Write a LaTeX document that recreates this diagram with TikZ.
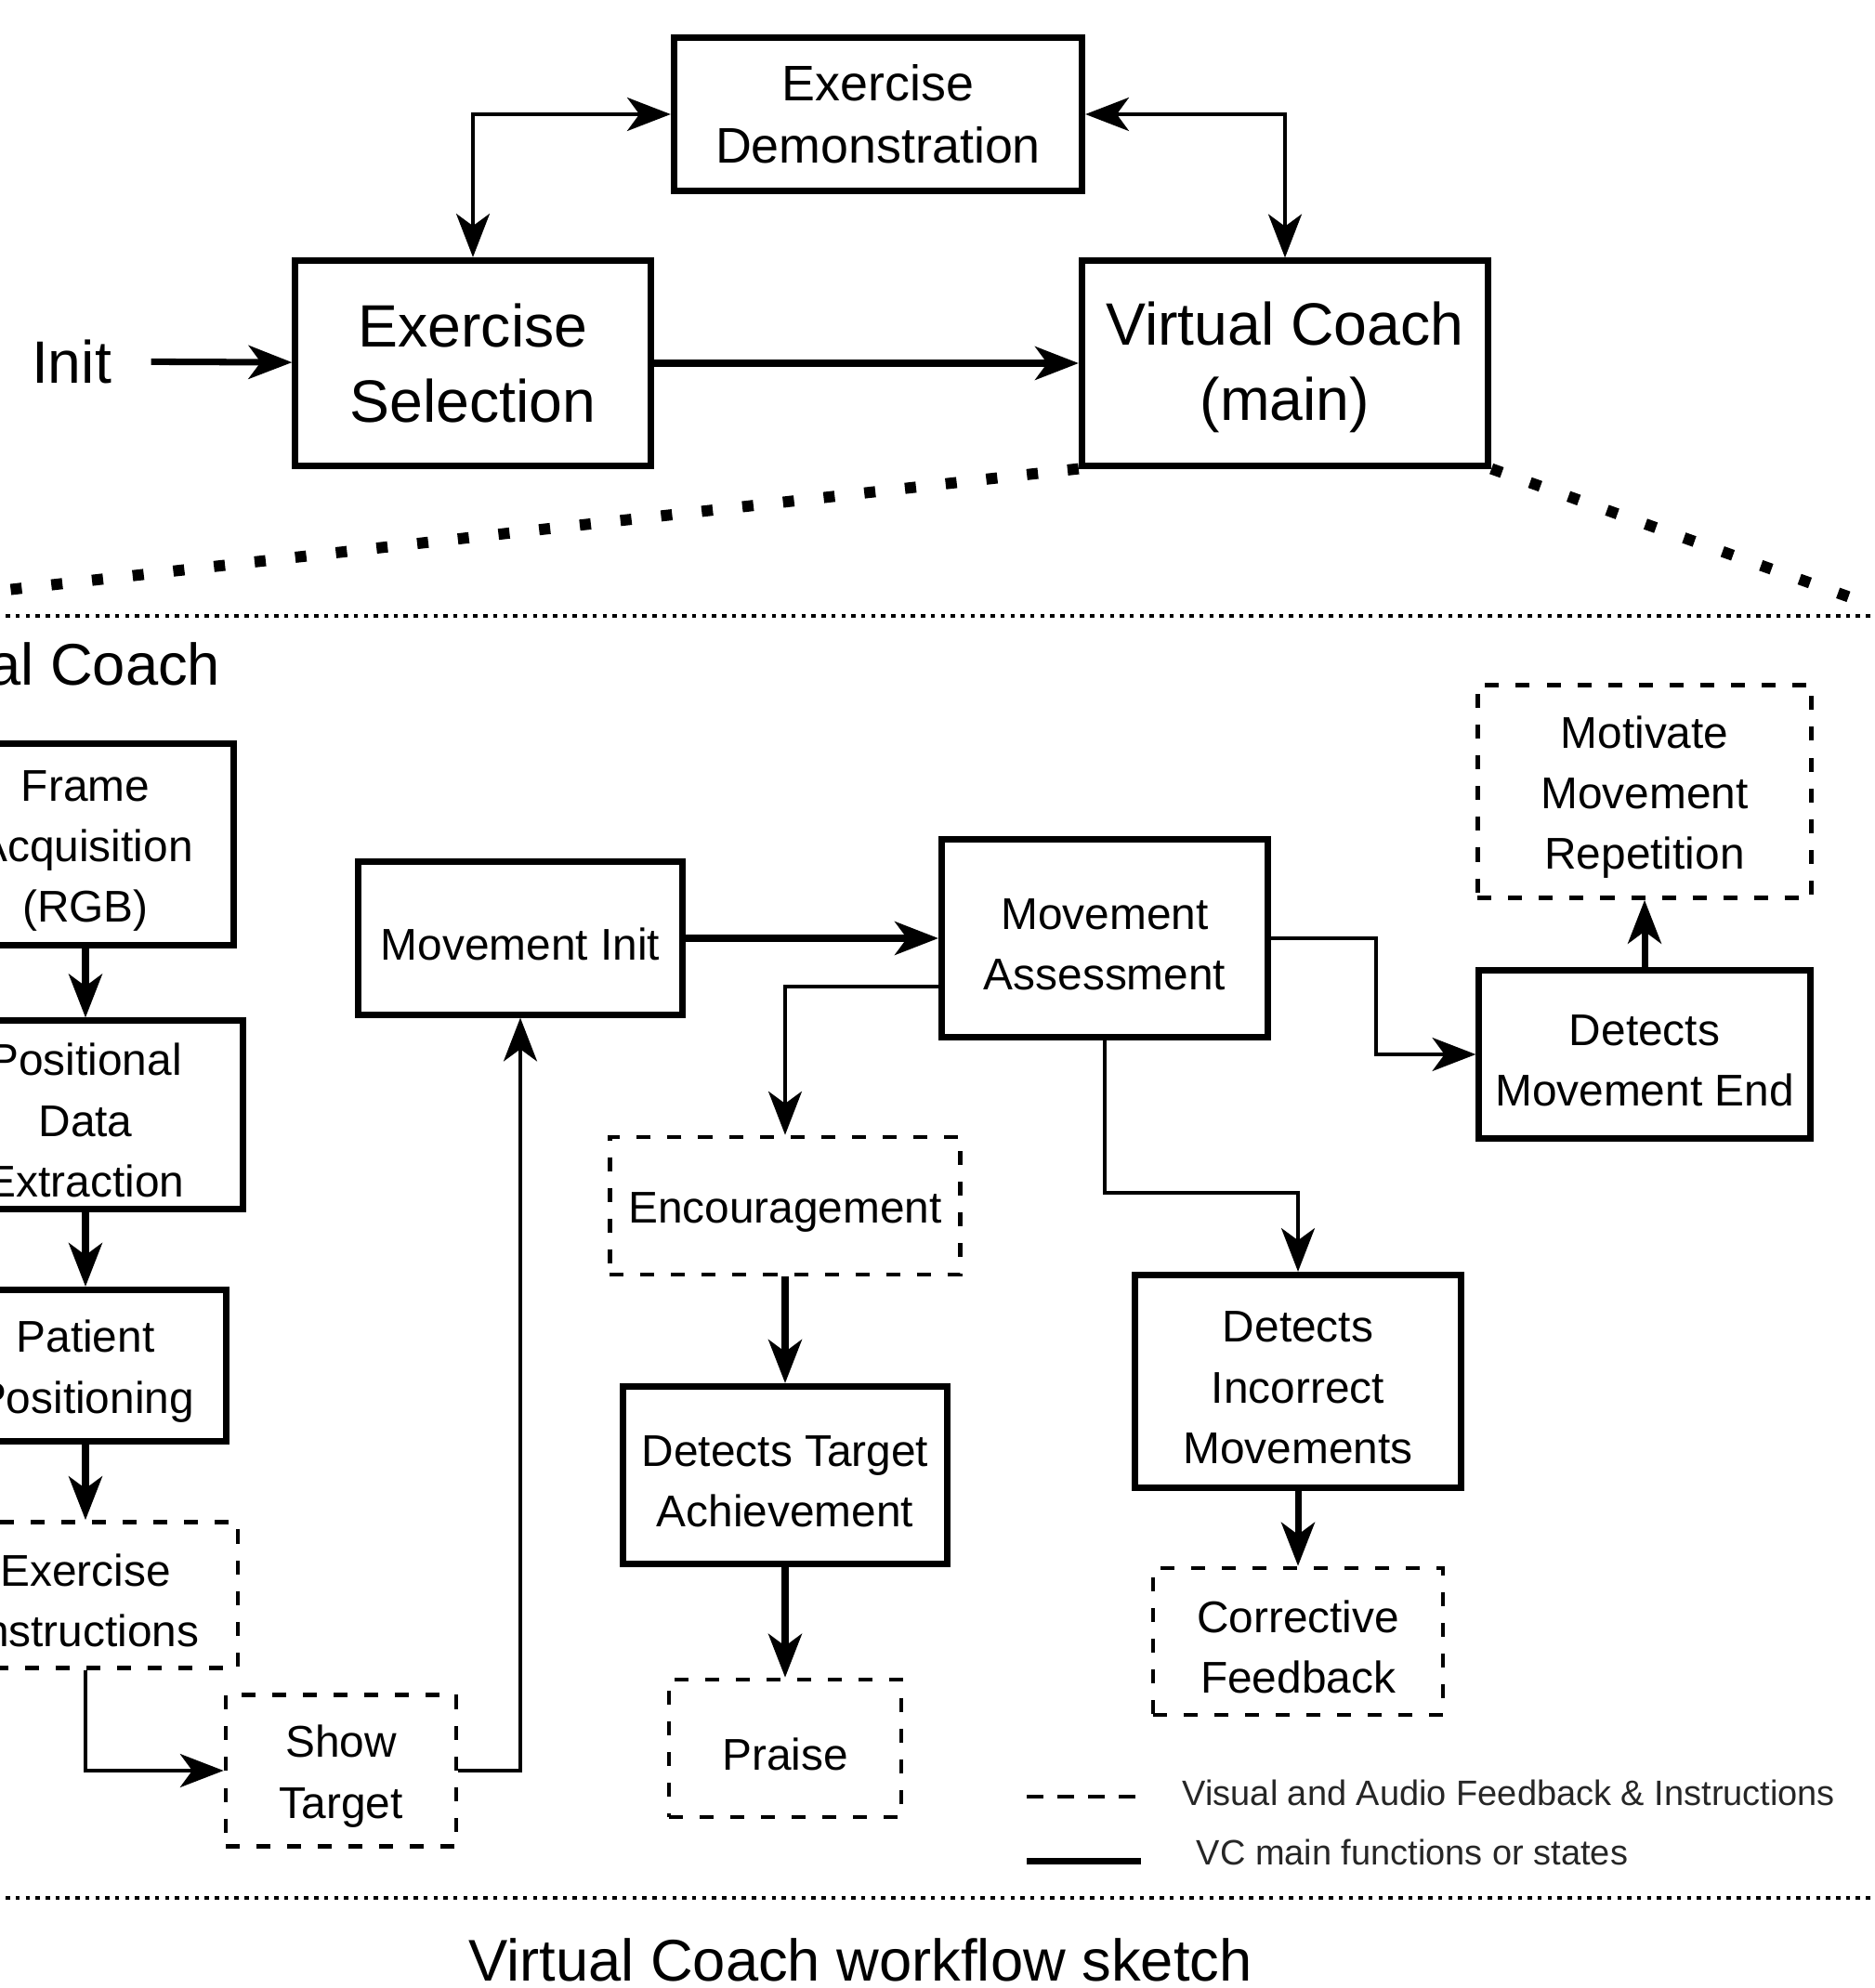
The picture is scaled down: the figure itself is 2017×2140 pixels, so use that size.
\documentclass[tikz,border=0pt]{standalone}
\usepackage{fontspec}
\setmainfont{Liberation Sans}
\usepackage{tikz}
\usetikzlibrary{arrows.meta}
% first line strut, puts the text a bit lower in its box
\newcommand\vcstrut[1][13.3pt]{\rule{0pt}{#1}}
\tikzset{
    %Define standard arrow tip
    >={Stealth[length=13.3pt,width=10.2pt,inset=3.7pt]},
    %Define style for boxes
    state/.style={
           rectangle,
           draw=black, line width=2pt,
           inner sep=0pt,
           align=center,
           font=\fontsize{13.6pt}{18.6pt}\selectfont},
    feedback/.style={
           state,
           line width=1.3pt,
           dash pattern=on 0.15cm off 0.18cm},
    top/.style={
           state,
           font=\fontsize{18.3pt}{23.2pt}\selectfont},
    legend/.style={
           inner sep=0pt,
           text=black!85,
           font=\fontsize{10.8pt}{13pt}\selectfont},
    % Define arrow style
    pil/.style={
           ->,
           line width=2pt},
    thinpil/.style={
           ->,
           line width=1.3pt},
    bigdots/.style={line width=0.12cm, dash pattern=on 0.12cm off 0.32cm},
    smalldots/.style={line width=0.04cm, dash pattern=on 0.045cm off 0.062cm}
}
\begin{document}
\begin{tikzpicture}[x=0.01cm,y=-0.01cm,
  title/.style={inner sep=0pt, font=\fontsize{18pt}{22pt}\selectfont}]
 \useasboundingbox (0,0) rectangle (2017,2140);
 \clip (0,0) rectangle (2017,2140);

 %nodes
 \node[state, minimum width=4.39cm, minimum height=1.65cm,
   font=\fontsize{15.3pt}{19pt}\selectfont] (1) at (945,123) {Exercise\\Demonstration};
 \node[top, minimum width=3.82cm, minimum height=2.21cm] (2) at (509,391) {Exercise\\Selection};
 \node[top, minimum width=4.37cm, minimum height=2.20cm] (3) at (1383,391) {\vcstrut[15.7pt]Virtual Coach\\(main)};
 \node[title, font=\fontsize{18.3pt}{22pt}\selectfont] (0) at (77,389) {Init};

 \node[state, minimum width=3.18cm, minimum height=2.16cm] (4) at (92,909) {\vcstrut Frame\\Acquisition\\(RGB)};
 \node[state, minimum width=3.38cm, minimum height=2.02cm] (5) at (92,1200) {\vcstrut Positional\\Data\\Extraction};
 \node[state, minimum width=3.02cm, minimum height=1.63cm] (6) at (92,1470) {\vcstrut Patient\\Positioning};
 \node[feedback, minimum width=3.28cm, minimum height=1.57cm] (7) at (92,1717) {\vcstrut Exercise\\Instructions};
 \node[feedback, minimum width=2.48cm, minimum height=1.63cm] (8) at (367,1906) {\vcstrut Show\\Target};
 \node[state, minimum width=3.49cm, minimum height=1.64cm] (9) at (560,1010) {\vcstrut Movement Init};
 \node[state, minimum width=3.51cm, minimum height=2.13cm] (10) at (1189,1010) {\vcstrut Movement\\Assessment};
 \node[feedback, minimum width=3.77cm, minimum height=1.48cm] (11) at (845,1298) {\vcstrut Encouragement};
 \node[state, minimum width=3.49cm, minimum height=1.91cm] (12) at (845,1588) {\vcstrut Detects Target\\Achievement};
 \node[feedback, minimum width=2.50cm, minimum height=1.48cm] (13) at (845,1882) {\vcstrut Praise};
 \node[state, minimum width=3.50cm, minimum height=2.29cm] (14) at (1397,1487) {\vcstrut Detects\\Incorrect\\Movements};
 \node[feedback, minimum width=3.12cm, minimum height=1.58cm] (15) at (1397,1767) {\vcstrut Corrective\\Feedback};
 \node[state, minimum width=3.56cm, minimum height=1.80cm] (16) at (1770,1135) {\vcstrut Detects\\Movement End};
 \node[feedback, minimum width=3.59cm, minimum height=2.29cm] (17) at (1770,852) {\vcstrut Motivate\\Movement\\Repetition};

 \node[title, anchor=base east] (18) at (238,737) {Virtual Coach};
 \node[legend, anchor=west] (19) at (1272,1930) {Visual and Audio Feedback \& Instructions};
 \node[legend, anchor=west] (20) at (1287,1994) {VC main functions or states};
 \node[title, anchor=base] (21) at (926,2132) {Virtual Coach workflow sketch};

 %zoom frame
 \draw[bigdots] (3.south west) -- (-240,663);
 \draw[bigdots] (3.south east) -- (2047,663);
 \draw[smalldots] (-240,663) -- (2047,663);
 \draw[smalldots] (-240,2043) -- (2047,2043);

 %edges
 \path[pil]
    (2) edge (3)
    (4) edge (5)
    (5) edge (6)
    (6) edge (7)
    (9) edge (10)
    (11) edge (12)
    (12) edge (13)
    (14) edge (15)
    (16) edge (17);
 \draw[pil, shorten <=0.42cm] (0) -- (2);
 \draw[thinpil, <->] (2.north) |- (1.west);
 \draw[thinpil, <->] (3.north) |- (1.east);
 \draw[thinpil] (7.south) |- (8.west);
 \draw[thinpil] (8.east) -| (9.south);
 \draw[thinpil] ([yshift=-0.52cm]10.west) -| (11.north);
 \draw[thinpil] (10.south) -- ++(0,164) -| (14.north);
 \draw[thinpil] (10.east) -- ++(113,0) |- (16.west);

 %legend
 \draw[line width=0.04cm, dash pattern=on 0.18cm off 0.15cm] (1105,1934) -- (1225,1934);
 \draw[line width=0.07cm] (1105,2003) -- (1228,2003);
\end{tikzpicture}
\end{document}
